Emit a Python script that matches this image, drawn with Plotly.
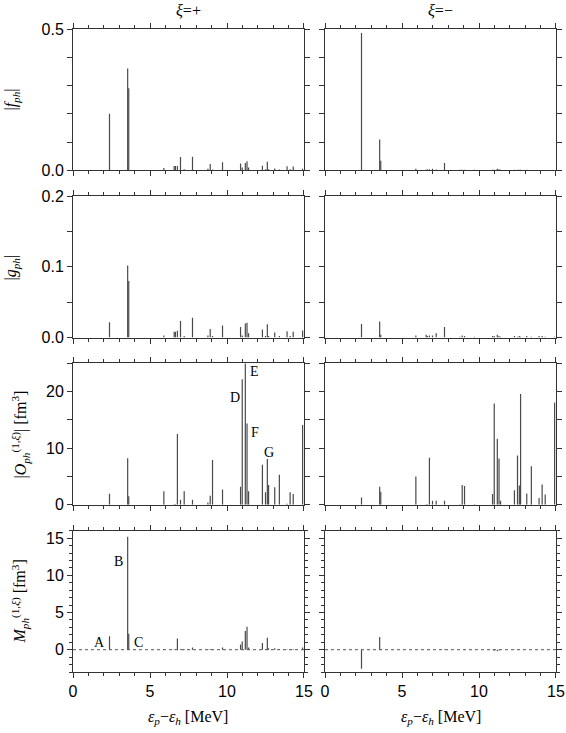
import plotly.graph_objects as go
from plotly.subplots import make_subplots

# particle-hole excitation energies eps_p - eps_h [MeV] (shared by both columns)
energy = [2.37, 3.55, 3.62, 5.90, 6.57, 6.65, 6.78, 6.98, 7.22, 7.76,
          8.76, 8.91, 9.06, 9.71, 10.88, 10.99, 11.19, 11.30, 11.40, 12.30,
          12.50, 12.62, 12.70, 13.10, 13.40, 13.90, 14.10, 14.30, 14.91]

# xi = +
f_plus = [0.20, 0.36, 0.29, 0.008, 0.015, 0.015, 0.015, 0.047, 0.004, 0.048,
          0.005, 0.022, 0.003, 0.028, 0.024, 0.010, 0.026, 0.032, 0.010, 0.016,
          0.004, 0.030, 0.004, 0.006, 0.003, 0.014, 0.004, 0.013, 0.005]
g_plus = [0.0215, 0.102, 0.080, 0.003, 0.008, 0.008, 0.0095, 0.0235, 0.002, 0.028,
          0.003, 0.012, 0.002, 0.017, 0.015, 0.003, 0.020, 0.021, 0.006, 0.0115,
          0.002, 0.0187, 0.002, 0.007, 0.002, 0.009, 0.002, 0.008, 0.010]
o_plus = [1.96, 8.25, 1.5, 2.4, 0.1, 0.1, 12.5, 0.9, 2.4, 0.9,
          0.4, 1.6, 7.9, 2.7, 3.2, 22.2, 30.0, 14.4, 2.4, 7.1,
          2.2, 8.1, 3.5, 3.1, 5.3, 0.2, 2.2, 1.9, 14.1]
m_plus = [1.8, 15.2, 2.15, 0.1, 0.05, 0.05, 1.5, 0.1, 0.1, 0.3,
          0.05, 0.1, 0.1, 0.3, 0.7, 1.1, 2.5, 3.1, 0.3, 0.9,
          0.1, 1.6, 0.2, 0.2, 0.05, 0.05, 0.1, 0.1, 0.3]

# xi = -
f_minus = [0.486, 0.109, 0.034, 0.005, 0.002, 0.003, 0.004, 0.005, 0.003, 0.026,
           0.002, 0.002, 0.002, 0.002, 0.002, 0.002, 0.005, 0.004, 0.002, 0.002,
           0.002, 0.002, 0.002, 0.002, 0.001, 0.001, 0.001, 0.001, 0.001]
g_minus = [0.019, 0.0225, 0.004, 0.003, 0.004, 0.002, 0.003, 0.003, 0.006, 0.015,
           0.001, 0.003, 0.002, 0.001, 0.002, 0.002, 0.004, 0.002, 0.001, 0.002,
           0.001, 0.002, 0.001, 0.002, 0.001, 0.002, 0.002, 0.001, 0.001]
o_minus = [1.3, 3.2, 2.3, 5.0, 0.1, 0.1, 8.3, 0.7, 0.7, 0.7,
           0.1, 3.5, 3.3, 0.1, 1.9, 17.9, 11.7, 8.2, 0.7, 2.55,
           8.7, 3.4, 19.6, 2.0, 6.8, 1.2, 3.6, 1.8, 18.1]
m_minus = [-2.55, 1.7, 0.1, -0.05, 0.02, 0.02, 0.05, 0.02, 0.02, 0.05,
           0.02, 0.02, 0.05, 0.02, -0.05, -0.15, -0.2, -0.1, 0.02, -0.05,
           0.02, -0.05, 0.02, 0.02, 0.02, 0.02, 0.02, 0.02, 0.02]

# y axis scales per row: range, labelled tick step, unlabelled tick step
y_ranges = [[0, 0.5], [0, 0.2], [0, 25], [-3, 16]]
y_major = [0.5, 0.1, 10, 5]
y_minor = [0.1, 0.05, 5, 1]
y_minorlen = [5, 5, 5, 3]
y_format = [".1f", ".1f", "d", "d"]
y_titles = ["|<i>f<sub>ph</sub></i>|", "|<i>g<sub>ph</sub></i>|",
            "|<i>O</i><sub><i>ph</i></sub><sup>(1,<i>ξ</i>)</sup>| [fm<sup>3</sup>]",
            "<i>M</i><sub><i>ph</i></sub><sup>(1,<i>ξ</i>)</sup> [fm<sup>3</sup>]"]

# labels A-G: (text, x, y, row)
labels = [("A", 1.7, 1.0, 4), ("B", 2.93, 11.8, 4), ("C", 4.25, 1.0, 4),
          ("D", 10.5, 18.9, 3), ("E", 11.8, 23.6, 3), ("F", 11.8, 12.8, 3),
          ("G", 12.75, 9.2, 3)]

SERIF = "Liberation Serif, Times New Roman, serif"
SANS = "Liberation Sans, Arial, sans-serif"
AXC = "#333333"


def sticks(vals):
    xs, ys = [], []
    for e, v in zip(energy, vals):
        xs += [e, e, None]
        ys += [0, v, None]
    return xs, ys


fig = make_subplots(rows=4, cols=2, horizontal_spacing=0.0435, vertical_spacing=0.0404)

panels = [(f_plus, f_minus), (g_plus, g_minus), (o_plus, o_minus), (m_plus, m_minus)]
for r, pair in enumerate(panels, start=1):
    for c, vals in enumerate(pair, start=1):
        xs, ys = sticks(vals)
        fig.add_trace(go.Scatter(x=xs, y=ys, mode="lines",
                                 line=dict(color="#4a4a4a", width=1.2),
                                 showlegend=False, hoverinfo="skip"), row=r, col=c)

        fig.update_xaxes(range=[0, 15], tick0=0, dtick=5, automargin=False,
                         showticklabels=(r == 4),
                         ticks="outside", ticklen=5, tickcolor=AXC, tickwidth=1,
                         minor=dict(dtick=1, ticks="outside", ticklen=3, tickcolor=AXC),
                         showline=True, linecolor=AXC, linewidth=1, mirror="ticks",
                         showgrid=False, zeroline=False,
                         tickfont=dict(family=SANS, size=16, color="black"),
                         row=r, col=c)
        fig.update_yaxes(range=y_ranges[r - 1], tick0=0, dtick=y_major[r - 1],
                         automargin=False,
                         tickformat=y_format[r - 1], showticklabels=(c == 1),
                         ticks="outside", ticklen=5, tickcolor=AXC, tickwidth=1,
                         minor=dict(tick0=0, dtick=y_minor[r - 1], ticks="outside",
                                    ticklen=y_minorlen[r - 1], tickcolor=AXC),
                         showline=True, linecolor=AXC, linewidth=1, mirror="ticks",
                         showgrid=False, zeroline=False,
                         tickfont=dict(family=SANS, size=16, color="black"),
                         row=r, col=c)

# dotted zero line in the bottom row
for c in (1, 2):
    fig.add_hline(y=0, line=dict(color="#555555", width=1, dash="dot"), row=4, col=c)

# column headers
for x, txt in [(0.239, "<i>ξ</i>=+"), (0.761, "<i>ξ</i>=−")]:
    fig.add_annotation(text=txt, xref="paper", yref="paper", x=x, y=1, yshift=19,
                       xanchor="center", yanchor="middle",
                       showarrow=False, font=dict(family=SERIF, size=16, color="black"))

# x axis titles
for x in (0.239, 0.761):
    fig.add_annotation(text="<i>ε<sub>p</sub></i>−<i>ε<sub>h</sub></i> [MeV]",
                       xref="paper", yref="paper", x=x, y=0, yshift=-45,
                       xanchor="center", yanchor="middle",
                       showarrow=False, font=dict(family=SERIF, size=16, color="black"))

# y axis titles
row_centers = [0.8903, 0.6290, 0.3693, 0.1097]
for i, (t, yc) in enumerate(zip(y_titles, row_centers)):
    fig.add_annotation(text=t, xref="paper", yref="paper", x=0, y=yc,
                       xshift=-61 if i < 2 else -53, textangle=-90, showarrow=False,
                       xanchor="center", yanchor="middle",
                       font=dict(family=SERIF, size=16, color="black"))

# transition labels
for txt, x, y, r in labels:
    idx = (r - 1) * 2 + 1
    fig.add_annotation(text=txt, x=x, y=y, xref=f"x{idx}", yref=f"y{idx}",
                       showarrow=False, font=dict(family=SERIF, size=14, color="black"))

fig.update_layout(width=566, height=733,
                  margin=dict(l=73, r=10, t=29, b=61),
                  paper_bgcolor="white", plot_bgcolor="white")

fig.write_html("out.html", config={"displayModeBar": False},
               post_script="document.body.style.margin='0';document.body.style.overflow='hidden';")
